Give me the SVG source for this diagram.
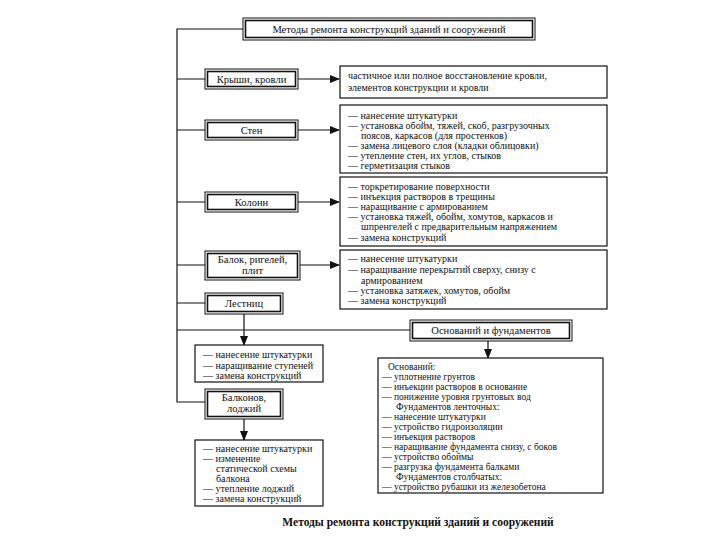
<svg xmlns="http://www.w3.org/2000/svg" width="720" height="540" viewBox="0 0 720 540">
<style>
text{font-family:"Liberation Serif","Times New Roman",serif;fill:#111;}
.t{font-size:10px;}
.s{font-size:9.5px;}
.n{font-size:10.5px;text-anchor:middle;}
.o{fill:#fff;stroke:#111;stroke-width:1;}
.i{fill:none;stroke:#111;stroke-width:1.6;}
.b{fill:#fff;stroke:#111;stroke-width:1.2;}
.c{fill:none;stroke:#111;stroke-width:1.2;}
.cap{font-size:11.5px;font-weight:bold;text-anchor:middle;}
</style>
<defs>
<marker id="ah" markerWidth="10" markerHeight="8" refX="9" refY="4" orient="auto" markerUnits="userSpaceOnUse">
<path d="M0,0 L10,4 L0,8 Z" fill="#111"/>
</marker>
</defs>
<rect width="720" height="540" fill="#fff"/>
<g id="connectors">
<path class="c" d="M243,29 H177 V402 H205"/>
<path class="c" d="M177,79 H205 M177,130 H205 M177,202 H205 M177,265 H205 M177,303 H205 M177,330 H410"/>
<path class="c" d="M298,79 H339" marker-end="url(#ah)"/>
<path class="c" d="M298,130 H339" marker-end="url(#ah)"/>
<path class="c" d="M298,202 H339" marker-end="url(#ah)"/>
<path class="c" d="M300,265 H339" marker-end="url(#ah)"/>
<path class="c" d="M244,314 V345" marker-end="url(#ah)"/>
<path class="c" d="M244,419 V440" marker-end="url(#ah)"/>
<path class="c" d="M488,341 V358" marker-end="url(#ah)"/>
</g>
<g id="title">
<rect class="o" x="243" y="18" width="292" height="22"/>
<rect class="i" x="245.5" y="20.5" width="287" height="17"/>
<text class="n" x="389" y="32.5">Методы ремонта конструкций зданий и сооружений</text>
</g>
<g id="n-roof">
<rect class="o" x="205" y="69" width="93" height="20"/>
<rect class="i" x="207.5" y="71.5" width="88" height="15"/>
<text class="n" x="251.5" y="82.5">Крыши, кровли</text>
</g>
<g id="n-walls">
<rect class="o" x="205" y="120" width="93" height="20"/>
<rect class="i" x="207.5" y="122.5" width="88" height="15"/>
<text class="n" x="251.5" y="133.5">Стен</text>
</g>
<g id="n-columns">
<rect class="o" x="205" y="192" width="93" height="20"/>
<rect class="i" x="207.5" y="194.5" width="88" height="15"/>
<text class="n" x="251.5" y="205.5">Колонн</text>
</g>
<g id="n-beams">
<rect class="o" x="205" y="251" width="95" height="29"/>
<rect class="i" x="207.5" y="253.5" width="90" height="24"/>
<text class="n" x="252.5" y="263">Балок, ригелей,</text>
<text class="n" x="252.5" y="274">плит</text>
</g>
<g id="n-stairs">
<rect class="o" x="205" y="293" width="78" height="21"/>
<rect class="i" x="207.5" y="295.5" width="73" height="16"/>
<text class="n" x="244" y="307">Лестниц</text>
</g>
<g id="n-balcony">
<rect class="o" x="205" y="389" width="78" height="30"/>
<rect class="i" x="207.5" y="391.5" width="73" height="25"/>
<text class="n" x="244" y="401">Балконов,</text>
<text class="n" x="244" y="412">лоджий</text>
</g>
<g id="n-found">
<rect class="o" x="410" y="320" width="162" height="21"/>
<rect class="i" x="412.5" y="322.5" width="157" height="16"/>
<text class="n" x="491" y="334">Оснований и фундаментов</text>
</g>
<g id="r-roof">
<rect class="b" x="340" y="66" width="267" height="32"/>
<text class="t" x="348" y="79">частичное или полное восстановление кровли,</text>
<text class="t" x="348" y="91">элементов конструкции и кровли</text>
</g>
<g id="r-walls">
<rect class="b" x="340" y="105" width="267" height="68"/>
<text class="t" x="348" y="119">— нанесение штукатурки</text>
<text class="t" x="348" y="129">— установка обойм, тяжей, скоб, разгрузочных</text>
<text class="t" x="361" y="139">поясов, каркасов (для простенков)</text>
<text class="t" x="348" y="149">— замена лицевого слоя (кладки облицовки)</text>
<text class="t" x="348" y="159">— утепление стен, их углов, стыков</text>
<text class="t" x="348" y="169">— герметизация стыков</text>
</g>
<g id="r-columns">
<rect class="b" x="340" y="177" width="267" height="69"/>
<text class="t" x="348" y="190">— торкретирование поверхности</text>
<text class="t" x="348" y="200">— инъекция растворов в трещины</text>
<text class="t" x="348" y="210">— наращивание с армированием</text>
<text class="t" x="348" y="220">— установка тяжей, обойм, хомутов, каркасов и</text>
<text class="t" x="361" y="230">шпренгелей с предварительным напряжением</text>
<text class="t" x="348" y="241">— замена конструкций</text>
</g>
<g id="r-beams">
<rect class="b" x="340" y="250" width="267" height="59"/>
<text class="t" x="348" y="262">— нанесение штукатурки</text>
<text class="t" x="348" y="273">— наращивание перекрытий сверху, снизу с</text>
<text class="t" x="361" y="284">армированием</text>
<text class="t" x="348" y="294">— установка затяжек, хомутов, обойм</text>
<text class="t" x="348" y="304">— замена конструкций</text>
</g>
<g id="r-stairs">
<rect class="b" x="195" y="345" width="128" height="37"/>
<text class="t" x="203" y="358">— нанесение штукатурки</text>
<text class="t" x="203" y="369">— наращивание ступеней</text>
<text class="t" x="203" y="379">— замена конструкций</text>
</g>
<g id="r-balcony">
<rect class="b" x="195" y="440" width="128" height="66"/>
<text class="t" x="203" y="452">— нанесение штукатурки</text>
<text class="t" x="203" y="462">— изменение</text>
<text class="t" x="216" y="472">статической схемы</text>
<text class="t" x="216" y="482">балкона</text>
<text class="t" x="203" y="492">— утепление лоджий</text>
<text class="t" x="203" y="502">— замена конструкций</text>
</g>
<g id="r-found">
<rect class="b" x="378" y="358" width="225" height="135"/>
<text class="s" x="388" y="370">Оснований:</text>
<text class="s" x="382" y="380">— уплотнение грунтов</text>
<text class="s" x="382" y="390">— инъекции растворов в основание</text>
<text class="s" x="382" y="400">— понижение уровня грунтовых вод</text>
<text class="s" x="396" y="410">Фундаментов ленточных:</text>
<text class="s" x="382" y="420">— нанесение штукатурки</text>
<text class="s" x="382" y="430">— устройство гидроизоляции</text>
<text class="s" x="382" y="440">— инъекция растворов</text>
<text class="s" x="382" y="450">— наращивание фундамента снизу, с боков</text>
<text class="s" x="382" y="460">— устройство обоймы</text>
<text class="s" x="382" y="470">— разгрузка фундамента балками</text>
<text class="s" x="396" y="480">Фундаментов столбчатых:</text>
<text class="s" x="382" y="490">— устройство рубашки из железобетона</text>
</g>
<text class="cap" x="418" y="526">Методы ремонта конструкций зданий и сооружений</text>
</svg>
